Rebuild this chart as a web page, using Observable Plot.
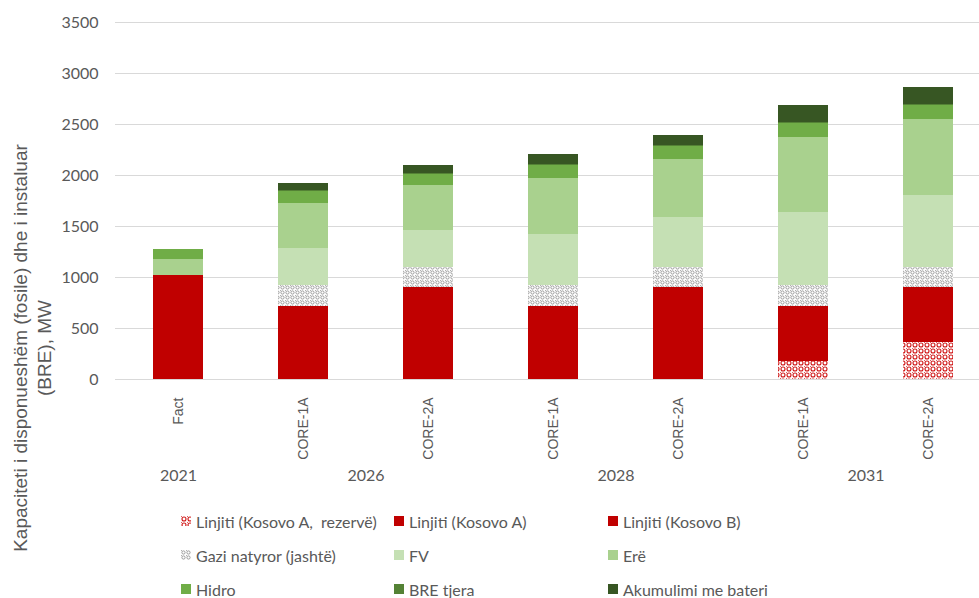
<!DOCTYPE html>
<html><head><meta charset="utf-8">
<script src="https://cdn.jsdelivr.net/npm/d3@7"></script>
<script src="https://cdn.jsdelivr.net/npm/@observablehq/plot@0.6"></script>
<style>
html,body{margin:0;padding:0;background:#fff;overflow:hidden;}
#wrap{position:relative;width:979px;height:598px;overflow:hidden;}
#wrap svg{max-width:none !important;}
#legend{position:absolute;left:181px;top:504px;display:grid;grid-template-columns:213px 214px auto;grid-auto-rows:34px;font-family:Lato,sans-serif;font-size:16px;color:#595959;}
.item{display:flex;align-items:center;white-space:pre;}
.item svg{width:10px;height:10px;margin-right:5px;flex:none;}
#ytitle{position:absolute;left:-237px;top:323.5px;width:540px;height:48px;line-height:24px;transform:rotate(-90deg);text-align:center;white-space:pre-line;font-family:"Liberation Sans",sans-serif;font-size:19px;color:#595959;}
</style></head><body><div id="wrap"><div id="legend"></div><div id="ytitle"></div></div>
<script>
// ---- data ----
const years = ["2021", "2026", "2026", "2028", "2028", "2031", "2031"];
const scenarios = ["Fact", "CORE-1A", "CORE-2A", "CORE-1A", "CORE-2A", "CORE-1A", "CORE-2A"];
const yearLabels = ["2021", "2026", "2028", "2031"];
const seriesNames = ["Linjiti (Kosovo A,  rezervë)", "Linjiti (Kosovo A)", "Linjiti (Kosovo B)", "Gazi natyror (jashtë)", "FV", "Erë", "Hidro", "BRE tjera", "Akumulimi me bateri"];
const rezerve  = [0, 0, 0, 0, 0, 180, 360];
const kosovoA  = [480, 180, 360, 180, 360, 0, 0];
const kosovoB  = [540, 540, 540, 540, 540, 540, 540];
const gazi     = [0, 200, 200, 200, 200, 200, 200];
const fv       = [0, 360, 360, 500, 490, 715, 700];
const ere      = [153, 448, 440, 555, 565, 735, 749];
const hidro    = [97, 115, 114, 127, 130, 137, 134];
const breTjera = [8, 10, 10, 10, 10, 10, 10];
const akum     = [0, 65, 72, 98, 102, 166, 173];
const yTicks = [0, 500, 1000, 1500, 2000, 2500, 3000, 3500];
const yTitle = "Kapaciteti i disponueshëm (fosile) dhe i instaluar\n(BRE), MW";
const seriesColors = ["url(#patRed)", "#C00000", "#C00000", "url(#patGrey)", "#C5E0B4", "#A9D18E", "#70AD47", "#548235", "#375623"];

// ---- build ----
const seriesValues = [rezerve, kosovoA, kosovoB, gazi, fv, ere, hidro, breTjera, akum];
const keys = scenarios.map((s, i) => years[i] + " " + s);
const scenarioOf = Object.fromEntries(keys.map((k, i) => [k, scenarios[i]]));
const rows = [];
seriesNames.forEach((name, si) => seriesValues[si].forEach((v, i) => rows.push({key: keys[i], series: name, value: v})));
const countOfYear = Object.fromEntries(yearLabels.map(y => [y, years.filter(v => v === y).length]));
const single = yearLabels.filter(y => countOfYear[y] === 1);
const pairs = yearLabels.filter(y => countOfYear[y] === 2);

const W = 991, ML = 115;
const step = (W - ML) / keys.length;

const plot = Plot.plot({
  width: W, height: 598,
  marginLeft: ML, marginRight: 0, marginTop: 22, marginBottom: 219,
  style: {fontFamily: "Lato, sans-serif", background: "white"},
  x: {domain: keys, paddingInner: 0.6, paddingOuter: 0.3, align: 0.5, axis: null},
  y: {domain: [0, 3500], axis: null},
  color: {domain: seriesNames, range: seriesColors},
  marks: [
    Plot.gridY(yTicks, {stroke: "#D9D9D9", strokeOpacity: 1, strokeWidth: 1}),
    Plot.barY(rows, {x: "key", y: "value", fill: "series", order: seriesNames, shapeRendering: "crispEdges"}),
    Plot.axisY(yTicks, {tickSize: 0, tickPadding: 17, tickFormat: d => String(d), fontSize: 16, color: "#595959", label: null}),
    Plot.axisX({tickSize: 0, tickPadding: 18, tickRotate: -90, tickFormat: k => scenarioOf[k], fontFamily: "Liberation Sans, sans-serif", fontSize: 14, color: "#595959", label: null}),
    Plot.text(single, {x: y => keys[years.indexOf(y)], text: y => y, frameAnchor: "bottom", dy: 101, fontSize: 16, fill: "#595959"}),
    Plot.text(pairs, {x: y => keys[years.indexOf(y)], text: y => y, frameAnchor: "bottom", dx: step / 2, dy: 101, fontSize: 16, fill: "#595959"})
  ]
});

const defs = document.createElementNS("http://www.w3.org/2000/svg", "defs");
defs.innerHTML = `
<pattern id="patRed" patternUnits="userSpaceOnUse" width="6" height="6">
  <rect width="6" height="6" fill="#fff"/>
  <circle cx="3" cy="3" r="2" fill="none" stroke="#D01818" stroke-width="1.1"/>
  <rect x="0" y="0" width="1" height="1" fill="#E06060"/>
</pattern>
<pattern id="patGrey" patternUnits="userSpaceOnUse" width="5" height="5">
  <rect width="5" height="5" fill="#fff"/>
  <circle cx="2.5" cy="2.5" r="1.6" fill="none" stroke="#9A9A9A" stroke-width="1"/>
  <rect x="0" y="0" width="1" height="1" fill="#B0B0B0"/>
</pattern>`;
plot.insertBefore(defs, plot.firstChild);
document.getElementById("wrap").insertBefore(plot, document.getElementById("legend"));

document.getElementById("ytitle").textContent = yTitle;

// legend
const legend = d3.select("#legend");
seriesNames.forEach((name, i) => {
  const it = legend.append("div").attr("class", "item");
  it.append("svg").attr("viewBox", "0 0 10 10").append("rect").attr("width", 10).attr("height", 10).attr("fill", seriesColors[i]);
  it.append("span").text(name);
});
</script>
</body></html>
